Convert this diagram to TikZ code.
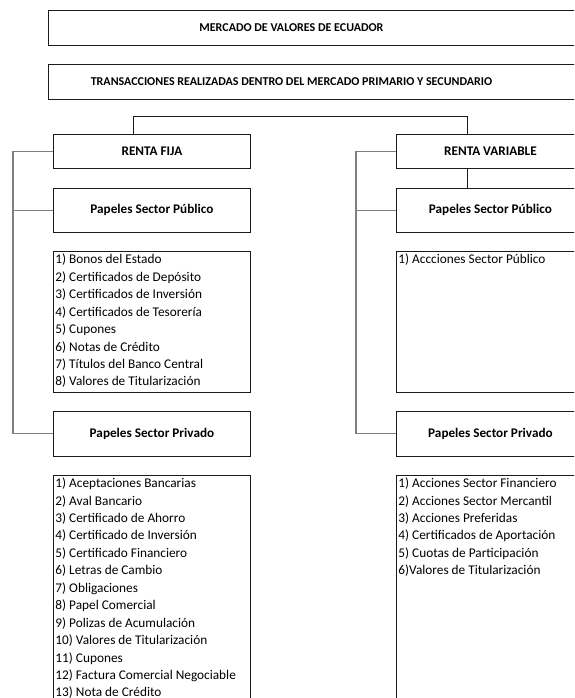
\documentclass[tikz,border=0pt]{standalone}
\usepackage{fontspec}
\setmainfont{Carlito}
\usepackage{xcolor}
\definecolor{lineDark}{HTML}{1A1A1A}
\definecolor{bracketGray}{HTML}{7F7F7F}
\usetikzlibrary{positioning,calc}
\newcommand{\itemList}[3]{%
  \parbox[t][#1][t]{#2}{\raggedright\fontsize{13.3}{17.45}\selectfont\rule{0pt}{12.5pt}#3}}
\newcommand{\titleText}[1]{\makebox[560pt][l]{\makebox[486pt]{#1}}}
\tikzset{%
  titleBox/.style={%
    rectangle,
    draw=lineDark,
    line width=0.9pt,
    minimum width=560pt,
    minimum height=35pt,
    inner sep=0pt,
    anchor=north west,
    font=\fontsize{12}{14}\selectfont\bfseries
  },
  headBox/.style={%
    rectangle,
    draw=lineDark,
    line width=0.9pt,
    inner sep=0pt,
    anchor=north west,
    font=\fontsize{13.2}{15}\selectfont\bfseries
  },
  listBox/.style={%
    rectangle,
    draw=lineDark,
    line width=0.9pt,
    inner xsep=2pt,
    inner ysep=0pt,
    anchor=north west
  },
  linkLine/.style={%
    draw=lineDark,
    line width=0.9pt
  },
  bracketLine/.style={%
    draw=bracketGray,
    line width=1.3pt
  }
}

\begin{document}
\begin{tikzpicture}[x=1pt,y=-1pt]
  \path[use as bounding box,clip] (0,0) rectangle (574,698);

  \node[titleBox] (mercado) at (48,10) {\titleText{MERCADO DE VALORES DE ECUADOR}};
  \node[titleBox, below=18pt of mercado] (transacciones) {\titleText{TRANSACCIONES REALIZADAS DENTRO DEL MERCADO PRIMARIO Y SECUNDARIO}};

  % renta fija
  \node[headBox, minimum width=197pt, minimum height=34pt] (rentaFija) at (53,134) {RENTA FIJA};
  \node[headBox, minimum width=197pt, minimum height=44pt, below=19pt of rentaFija] (fijaPublico) {Papeles Sector Público};
  \node[listBox, below=18pt of fijaPublico] (fijaPublicoList) {\itemList{141pt}{193pt}{%
    1) Bonos del Estado\\
    2) Certificados de Depósito\\
    3) Certificados de Inversión\\
    4) Certificados de Tesorería\\
    5) Cupones\\
    6) Notas de Crédito\\
    7) Títulos del Banco Central\\
    8) Valores de Titularización}};
  \node[headBox, minimum width=197pt, minimum height=45pt, below=18pt of fijaPublicoList] (fijaPrivado) {Papeles Sector Privado};
  \node[listBox, below=18pt of fijaPrivado] (fijaPrivadoList) {\itemList{250pt}{193pt}{%
    1) Aceptaciones Bancarias\\
    2) Aval Bancario\\
    3) Certificado de Ahorro\\
    4) Certificado de Inversión\\
    5) Certificado Financiero\\
    6) Letras de Cambio\\
    7) Obligaciones\\
    8) Papel Comercial\\
    9) Polizas de Acumulación\\
    10) Valores de Titularización\\
    11) Cupones\\
    12) Factura Comercial Negociable\\
    13) Nota de Crédito}};

  % renta variable
  \node[headBox, minimum width=188pt, minimum height=34pt] (rentaVariable) at (396,134) {RENTA VARIABLE};
  \node[headBox, minimum width=188pt, minimum height=44pt, below=19pt of rentaVariable] (variablePublico) {Papeles Sector Público};
  \node[listBox, below=18pt of variablePublico] (variablePublicoList) {\itemList{141pt}{184pt}{%
    1) Accciones Sector Público}};
  \node[headBox, minimum width=188pt, minimum height=45pt, below=18pt of variablePublicoList] (variablePrivado) {Papeles Sector Privado};
  \node[listBox, below=18pt of variablePrivado] (variablePrivadoList) {\itemList{250pt}{184pt}{%
    1) Acciones Sector Financiero\\
    2) Acciones Sector Mercantil\\
    3) Acciones Preferidas\\
    4) Certificados de Aportación\\
    5) Cuotas de Participación\\
    6)Valores de Titularización}};

  % joins
  \coordinate (joinLeft) at (133,116);
  \coordinate (joinRight) at (467,116);
  \coordinate (spineLeft) at (13,152);
  \coordinate (spineRight) at (356,152);

  \draw[linkLine] (joinLeft |- rentaFija.north) -- (joinLeft) -- (joinRight) -- (joinRight |- rentaVariable.north);
  \draw[linkLine] (joinRight |- rentaVariable.south) -- (joinRight |- variablePublico.north);

  \draw[bracketLine] (rentaFija.west) -- (spineLeft |- rentaFija.west) |- (fijaPrivado.west);
  \draw[bracketLine] (fijaPublico.west) -- (spineLeft |- fijaPublico.west);
  \draw[bracketLine] (rentaVariable.west) -- (spineRight |- rentaVariable.west) |- (variablePrivado.west);
  \draw[bracketLine] (variablePublico.west) -- (spineRight |- variablePublico.west);
\end{tikzpicture}
\end{document}
